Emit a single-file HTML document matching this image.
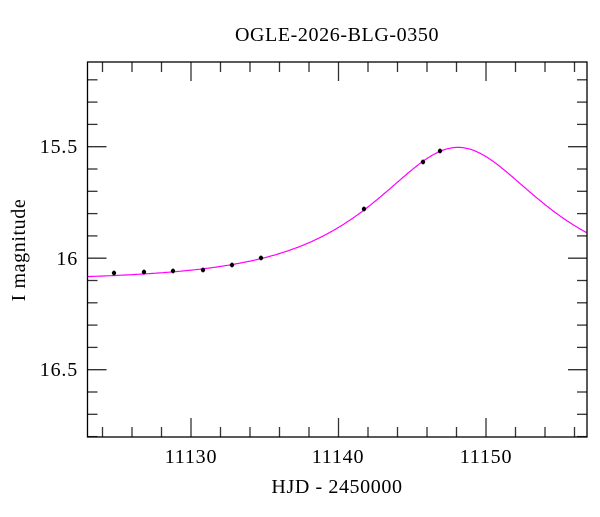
<!DOCTYPE html>
<html><head><meta charset="utf-8"><style>
html,body{margin:0;padding:0;background:#fff;}
</style></head><body>
<svg width="600" height="512" xmlns="http://www.w3.org/2000/svg" font-family="Liberation Serif, serif" id="s">
<rect width="600" height="512" fill="#fff"/>
<text x="337" y="41" text-anchor="middle" font-size="20" letter-spacing="0.6">OGLE-2026-BLG-0350</text>
<text x="337" y="493" text-anchor="middle" font-size="20" letter-spacing="0.6">HJD - 2450000</text>
<text transform="translate(25,250) rotate(-90)" text-anchor="middle" font-size="20" letter-spacing="0.6">I magnitude</text>
<g font-size="20" text-anchor="end" letter-spacing="0.8">
<text x="78" y="153">15.5</text>
<text x="78" y="265">16</text>
<text x="78" y="376">16.5</text>
</g>
<g font-size="20" text-anchor="middle" letter-spacing="0.8">
<text x="191" y="463">11130</text>
<text x="338" y="463">11140</text>
<text x="486" y="463">11150</text>
</g>
<g id="ticks" stroke="#333" stroke-width="1.3"></g>
<path id="curve" fill="none" stroke="#ff00ff" stroke-width="1.2"/>
<g id="pts"></g>
<rect x="87.5" y="62" width="499.5" height="375" fill="none" stroke="#000" stroke-width="1.3"/>
</svg>
<script>
var L=87.5,R=587,T=62,B=437;
function X(t){return 191+(t-11130)*14.75;}
function Y(m){return 146.7+(m-15.5)*223;}
var g=document.getElementById('ticks'),h='';
for(var t=11124;t<=11156;t+=2){var x=X(t),len=(t%10==0)?19:10;
h+='<line x1="'+x+'" y1="'+B+'" x2="'+x+'" y2="'+(B-len)+'"/><line x1="'+x+'" y1="'+T+'" x2="'+x+'" y2="'+(T+len)+'"/>';}
for(var i=0;i<=17;i++){var m=15.2+i*0.1,y=Y(m);if(y<T||y>B)continue;var len=(Math.abs((m*10)%5)<0.01||Math.abs((m*10)%5-5)<0.01)?19:10;
h+='<line x1="'+L+'" y1="'+y+'" x2="'+(L+len)+'" y2="'+y+'"/><line x1="'+R+'" y1="'+y+'" x2="'+(R-len)+'" y2="'+y+'"/>';}
g.innerHTML=h;
var m0=16.10,u0=0.67,t0=11148.1,tE=8.5,d='';
for(var t=11123;t<=11156.9;t+=0.1){var tau=(t-t0)/tE,u=Math.sqrt(u0*u0+tau*tau),A=(u*u+2)/(u*Math.sqrt(u*u+4));var m=m0-2.5*Math.log10(A);
d+=(d?'L':'M')+X(t).toFixed(1)+' '+Y(m).toFixed(1);}
document.getElementById('curve').setAttribute('d',d);
var P=[[114,273],[144,272],[173,271],[203,270],[232,265],[261,258],[364,209],[423,162],[440,151]],s='';
P.forEach(function(p){s+='<line x1="'+p[0]+'" y1="'+(p[1]-2.5)+'" x2="'+p[0]+'" y2="'+(p[1]+2.5)+'" stroke="#000" stroke-width="1"/><circle cx="'+p[0]+'" cy="'+p[1]+'" r="2.2" fill="#000"/>';});
document.getElementById('pts').innerHTML=s;
</script>
</body></html>
